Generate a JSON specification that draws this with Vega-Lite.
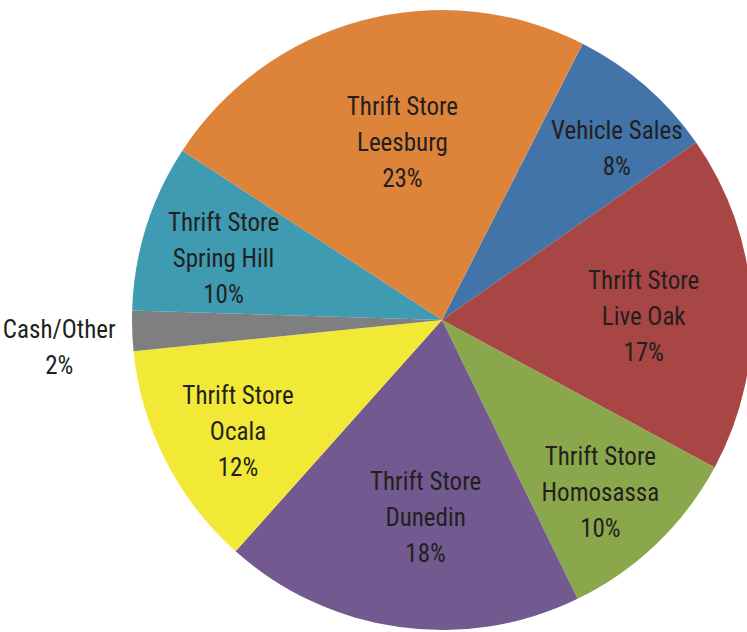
{
  "$schema": "https://vega.github.io/schema/vega-lite/v6.json",
  "width": 620,
  "height": 620,
  "autosize": "none",
  "padding": {"left": 132, "top": 10, "right": 0, "bottom": 0},
  "background": "white",
  "view": {"stroke": null},
  "data": {
    "values": [
      {"order": 1, "name": "Vehicle Sales", "value": 7.8, "label": "Vehicle Sales\n8%"},
      {"order": 2, "name": "Thrift Store Live Oak", "value": 17.6, "label": "Thrift Store\nLive Oak\n17%"},
      {"order": 3, "name": "Thrift Store Homosassa", "value": 9.9, "label": "Thrift Store\nHomosassa\n10%"},
      {"order": 4, "name": "Thrift Store Dunedin", "value": 18.8, "label": "Thrift Store\nDunedin\n18%"},
      {"order": 5, "name": "Thrift Store Ocala", "value": 11.8, "label": "Thrift Store\nOcala\n12%"},
      {"order": 6, "name": "Cash/Other", "value": 2.1, "label": "Cash/Other\n2%"},
      {"order": 7, "name": "Thrift Store Spring Hill", "value": 8.7, "label": "Thrift Store\nSpring Hill\n10%"},
      {"order": 8, "name": "Thrift Store Leesburg", "value": 23.3, "label": "Thrift Store\nLeesburg\n23%"}
    ]
  },
  "transform": [
    {"stack": "value", "groupby": [], "sort": [{"field": "order", "order": "ascending"}], "as": ["v0", "v1"]},
    {"calculate": "(datum.v0 + datum.v1) / 2", "as": "mid"}
  ],
  "layer": [
    {
      "mark": {"type": "arc", "outerRadius": 310},
      "encoding": {
        "theta": {"field": "v0", "type": "quantitative", "scale": {"domain": [0, 100], "range": [0.471, 6.754]}},
        "theta2": {"field": "v1"},
        "color": {
          "field": "name",
          "type": "nominal",
          "legend": null,
          "scale": {
            "domain": ["Vehicle Sales", "Thrift Store Live Oak", "Thrift Store Homosassa", "Thrift Store Dunedin", "Thrift Store Ocala", "Cash/Other", "Thrift Store Spring Hill", "Thrift Store Leesburg"],
            "range": ["#4273A9", "#A84545", "#8BA74B", "#72598F", "#F1E935", "#7F7F80", "#3E9BB1", "#DD843A"]
          }
        }
      }
    },
    {
      "transform": [{"filter": {"field": "name", "oneOf": ["Thrift Store Leesburg", "Thrift Store Live Oak", "Thrift Store Dunedin"]}}],
      "mark": {"type": "text", "radius": 192, "dx": 10, "dy": -28, "lineBreak": "\n", "font": "Liberation Sans Narrow, Roboto Condensed, Arial Narrow, sans-serif", "fontSize": 25, "lineHeight": 36, "color": "#231F20", "align": "center", "baseline": "middle"},
      "encoding": {
        "theta": {"field": "mid", "type": "quantitative", "scale": {"domain": [0, 100], "range": [0.471, 6.754]}},
        "text": {"field": "label"}
      }
    },
    {
      "transform": [{"filter": {"field": "name", "oneOf": ["Thrift Store Homosassa", "Thrift Store Ocala", "Thrift Store Spring Hill"]}}],
      "mark": {"type": "text", "radius": 229, "dy": -28, "lineBreak": "\n", "font": "Liberation Sans Narrow, Roboto Condensed, Arial Narrow, sans-serif", "fontSize": 25, "lineHeight": 36, "color": "#231F20", "align": "center", "baseline": "middle"},
      "encoding": {
        "theta": {"field": "mid", "type": "quantitative", "scale": {"domain": [0, 100], "range": [0.471, 6.754]}},
        "text": {"field": "label"}
      }
    },
    {
      "transform": [{"filter": "datum.name == 'Vehicle Sales'"}],
      "mark": {"type": "text", "radius": 245, "dx": 14, "dy": -4, "lineBreak": "\n", "font": "Liberation Sans Narrow, Roboto Condensed, Arial Narrow, sans-serif", "fontSize": 25, "lineHeight": 36, "color": "#231F20", "align": "center", "baseline": "middle"},
      "encoding": {
        "theta": {"field": "mid", "type": "quantitative", "scale": {"domain": [0, 100], "range": [0.471, 6.754]}},
        "text": {"field": "label"}
      }
    },
    {
      "transform": [{"filter": "datum.name == 'Cash/Other'"}],
      "mark": {"type": "text", "radius": 383, "dy": -3, "lineBreak": "\n", "font": "Liberation Sans Narrow, Roboto Condensed, Arial Narrow, sans-serif", "fontSize": 25, "lineHeight": 36, "color": "#231F20", "align": "center", "baseline": "middle"},
      "encoding": {
        "theta": {"field": "mid", "type": "quantitative", "scale": {"domain": [0, 100], "range": [0.471, 6.754]}},
        "text": {"field": "label"}
      }
    }
  ]
}
